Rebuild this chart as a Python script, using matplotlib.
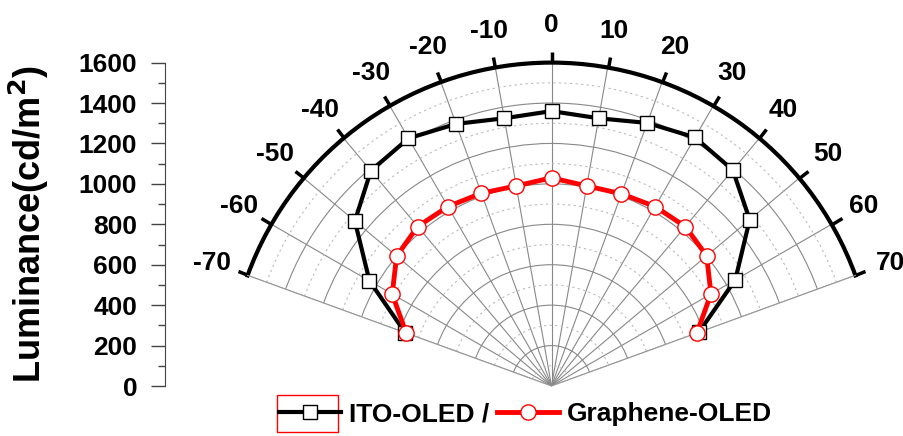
import numpy as np
import matplotlib.pyplot as plt
from matplotlib.ticker import MultipleLocator
from matplotlib.patches import Rectangle

plt.rcParams['font.family'] = ['Liberation Sans', 'DejaVu Sans']
plt.rcParams['font.weight'] = 'bold'

# viewing angle (deg) and luminance (cd/m2)
angles = [-70, -60, -50, -40, -30, -20, -10, 0, 10, 20, 30, 40, 50, 60, 70]
ito_lum = [770, 1040, 1270, 1390, 1415, 1380, 1345, 1360, 1345, 1385, 1420, 1395, 1280, 1050, 775]
graphene_lum = [765, 910, 1000, 1030, 1025, 1015, 1005, 1030, 1005, 1012, 1025, 1030, 1002, 911, 765]
theta_ticks = list(range(-70, 80, 10))

W, H = 904, 436
fig = plt.figure(figsize=(W / 100, H / 100), dpi=100)

# target polar centre / radius in pixels (from top-left)
cx, cy, R = 551.5, 386.0, 323.4
ax = fig.add_axes([0.25, 0.1, 0.7, 0.75], projection='polar')
ax.set_theta_zero_location('N')
ax.set_theta_direction(-1)
ax.set_thetamin(-70)
ax.set_thetamax(70)
ax.set_rlim(0, 1600)

th = np.radians(angles)
ax.plot(th, ito_lum, color='black', lw=3, marker='s', ms=10,
        mfc='white', mec='black', mew=1, label='ITO-OLED /', zorder=3, clip_on=False)
ax.plot(th, graphene_lum, color='red', lw=3.5, marker='o', ms=11,
        mfc='white', mec='red', mew=1, label='Graphene-OLED', zorder=4, clip_on=False)

ax.set_thetagrids(theta_ticks, labels=[str(t) for t in theta_ticks])
ax.set_rticks(range(0, 1601, 200))
ax.yaxis.set_minor_locator(MultipleLocator(100))
ax.set_yticklabels([])
ax.tick_params(axis='y', which='both', length=0)
ax.grid(True, which='major', color='#888888', lw=0.8, ls='-')
ax.yaxis.grid(True, which='minor', color='#bbbbbb', lw=0.8, ls=(0, (2, 3)))
ax.xaxis.set_tick_params(which='major', tick1On=False, tick2On=True,
                         direction='out', length=8, width=2.5, color='black',
                         labelsize=19, pad=12)
for lbl in ax.get_xticklabels():
    lbl.set_fontweight('bold')
ax.spines['polar'].set_linewidth(3)
ax.spines['polar'].set_color('black')
for s in ['start', 'end']:
    ax.spines[s].set_color('#999999')
    ax.spines[s].set_linewidth(0.8)
ax.spines['inner'].set_visible(False)

# move/scale the polar axes so the wedge lands where it is in the original
for _ in range(3):
    fig.canvas.draw()
    c0 = ax.transData.transform((0, 0))
    t0 = ax.transData.transform((0, 1600))
    s = R / (t0[1] - c0[1])
    bb = ax.get_position().frozen()
    x0, y0 = bb.x0 * W, bb.y0 * H
    nx0 = cx - (c0[0] - x0) * s
    ny0 = (H - cy) - (c0[1] - y0) * s
    ax.set_position([nx0 / W, ny0 / H, bb.width * s, bb.height * s])

# separate luminance scale on the left
lax_w = 0.0005
lax = fig.add_axes([165 / W, (H - cy) / H, lax_w, R / H])
lax.set_ylim(0, 1600)
lax.set_xticks([])
lax.yaxis.set_major_locator(MultipleLocator(200))
lax.yaxis.set_minor_locator(MultipleLocator(100))
for s in ['right', 'top', 'bottom']:
    lax.spines[s].set_visible(False)
lax.spines['left'].set_color('#444444')
lax.tick_params(axis='y', which='major', length=10, width=1, color='#444444',
                labelsize=19, pad=10)
lax.tick_params(axis='y', which='minor', length=5, width=1, color='#444444')
for lbl in lax.get_yticklabels():
    lbl.set_fontweight('bold')
lax.set_ylabel('Luminance(cd/m$\\mathbf{^2}$)', fontsize=26, fontweight='bold')
lax.yaxis.set_label_coords(-114 / (lax_w * W), 0.5)

handles, labels = ax.get_legend_handles_labels()
fig.legend(handles, labels, loc='center left', bbox_to_anchor=(279 / W, 1 - 414 / H),
           ncol=2, frameon=False, prop={'weight': 'bold', 'size': 19},
           handlelength=2.35, handletextpad=0.3, columnspacing=0.3, borderpad=0,
           borderaxespad=0)
fig.patches.append(Rectangle((277 / W, 1 - 432 / H), 61 / W, 37 / H,
                             transform=fig.transFigure, fill=False,
                             edgecolor='red', lw=1))

fig.savefig('out.png', dpi=100)
